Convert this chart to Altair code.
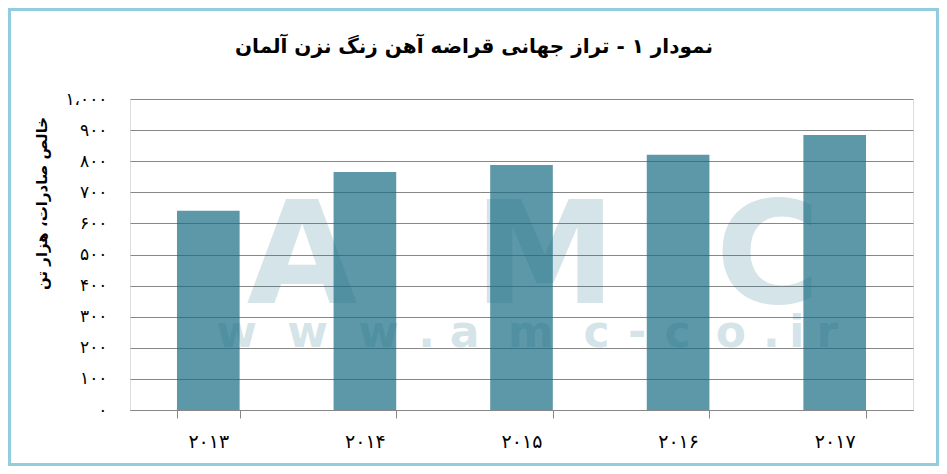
import json
import altair as alt
import pandas as pd

# ---------------- data ----------------
years = ["۲۰۱۳", "۲۰۱۴", "۲۰۱۵", "۲۰۱۶", "۲۰۱۷"]
net_exports = [641, 765, 788, 821, 884]
y_ticks = [0, 100, 200, 300, 400, 500, 600, 700, 800, 900, 1000]
y_tick_labels = ["۰", "۱۰۰", "۲۰۰", "۳۰۰", "۴۰۰", "۵۰۰", "۶۰۰", "۷۰۰", "۸۰۰", "۹۰۰", "۱،۰۰۰"]
title_text = "نمودار ۱ - تراز جهانی قراضه آهن زنگ نزن آلمان"
y_title = "خالص صادرات، هزار تن"

# watermark text
wm_big = ["A", "M", "C"]
wm_small = list("www.amc-co.ir")

# ---------------- layout ----------------
W, H = 783, 311
PAD = {"left": 122, "top": 91, "right": 26, "bottom": 56}
FONT = "DejaVu Sans"
BAR = "#186c83"
GRID = "#878787"

df = pd.DataFrame({"year": years, "value": net_exports})

# watermark positions (page pixels -> plot pixels)
ox, oy = 130, 99
big_x = [302, 545, 768]
wm_big_df = pd.DataFrame({"ch": wm_big, "px": [x - ox for x in big_x], "py": [303 - oy] * 3})
adv = {"w": 0.778, ".": 0.278, "a": 0.556, "m": 0.889, "c": 0.556, "-": 0.333,
       "o": 0.611, "i": 0.278, "r": 0.389}
tot = sum(adv[c] for c in wm_small)
k = (845 - 201) / tot
xs, cum = [], 0.0
for c in wm_small:
    xs.append(201 + k * (cum + adv[c] / 2) - ox)
    cum += adv[c]
wm_small_df = pd.DataFrame({"ch": wm_small, "px": xs, "py": [347 - oy] * len(wm_small)})

wm_big_layer = alt.Chart(wm_big_df).mark_text(
    font=FONT, fontWeight="bold", fontSize=143, color=BAR, opacity=0.18,
    baseline="alphabetic", align="center"
).encode(
    x=alt.X("px:Q", scale=None, axis=None),
    y=alt.Y("py:Q", scale=None, axis=None),
    text="ch:N",
)
wm_small_layer = alt.Chart(wm_small_df).mark_text(
    font=FONT, fontWeight="bold", fontSize=44, color=BAR, opacity=0.18,
    baseline="alphabetic", align="center"
).encode(
    x=alt.X("px:Q", scale=None, axis=None),
    y=alt.Y("py:Q", scale=None, axis=None),
    text="ch:N",
)

label_expr = json.dumps(y_tick_labels, ensure_ascii=False) + "[round(datum.value / 100)]"

bars = alt.Chart(df).mark_bar(color=BAR, opacity=0.7).encode(
    x=alt.X(
        "year:N", sort=None,
        scale=alt.Scale(paddingInner=0.6, paddingOuter=0.3),
        axis=alt.Axis(
            title=None, labelAngle=0, labelFont=FONT, labelFontSize=19, labelColor="#000",
            labelPadding=14, tickBand="extent", tickSize=8, tickColor=GRID,
            domainColor=GRID, grid=False,
        ),
    ),
    y=alt.Y(
        "value:Q",
        scale=alt.Scale(domain=[0, 1000], nice=False),
        axis=alt.Axis(
            values=y_ticks, labelExpr=label_expr, labelFont=FONT, labelFontSize=17,
            labelColor="#000", labelPadding=23, ticks=False, domain=False,
            grid=True, gridColor=GRID, gridWidth=1,
            title=y_title, titleFont=FONT, titleFontSize=15, titleFontWeight="bold",
            titleColor="#000", titleAngle=270, titleX=-89, titleY=104,
            titleAlign="center", titleBaseline="middle",
        ),
    ),
)

title_layer = alt.Chart(alt.Data(values=[{"t": title_text}])).mark_text(
    font=FONT, fontSize=20, fontWeight="bold", color="#000",
    align="center", baseline="alphabetic",
).encode(
    x=alt.value(474 - ox),
    y=alt.value(53 - oy),
    text="t:N",
)

border = alt.Chart(alt.Data(values=[{}])).mark_rect(
    fillOpacity=0, stroke="#93cddd", strokeWidth=3
).encode(
    x=alt.value(-PAD["left"] + 1.5),
    x2=alt.value(W + PAD["right"] - 1.5),
    y=alt.value(-PAD["top"] + 1.5),
    y2=alt.value(H + PAD["bottom"] - 1.5),
)

chart = alt.layer(wm_big_layer, wm_small_layer, bars, title_layer, border).resolve_scale(
    x="independent", y="independent"
).properties(
    width=W, height=H,
    autosize=alt.AutoSizeParams(type="none"),
    padding=PAD,
).configure_view(stroke=None).configure(background="white")

chart.save("out.html", embed_options={"renderer": "svg", "actions": False})
